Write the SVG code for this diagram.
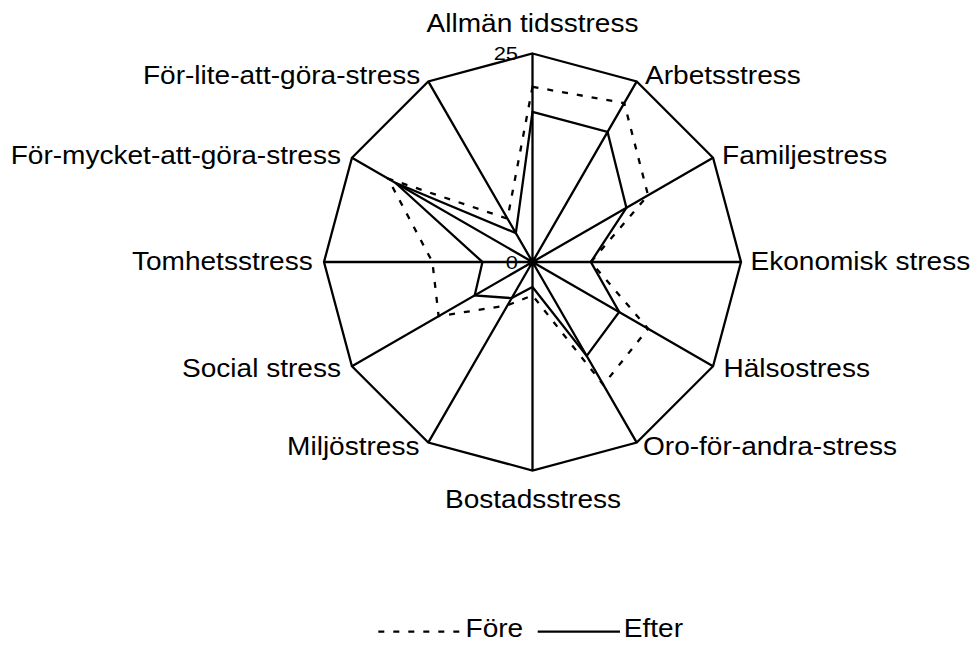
<svg xmlns="http://www.w3.org/2000/svg" width="976" height="646" viewBox="0 0 976 646">
<style>
.ln{fill:none;stroke:#000;stroke-width:2.3;stroke-linejoin:miter}
.ds{fill:none;stroke:#000;stroke-width:2.3;stroke-dasharray:6 9}
.lb{font-family:"Liberation Sans",Arial,sans-serif;font-size:25.5px;fill:#000}
.tk{font-family:"Liberation Sans",Arial,sans-serif;font-size:19px;fill:#000}
</style>
<rect width="976" height="646" fill="#fff"/>
<g id="grid">
<polygon class="ln" points="532.5,53.5 636.75,81.44 713.06,157.75 741,262 713.06,366.25 636.75,442.56 532.5,470.5 428.25,442.56 351.94,366.25 324,262 351.94,157.75 428.25,81.44"/>
</g>
<g id="spokes">
<path class="ln" d="M532.5,262L532.5,53.5M532.5,262L636.75,81.44M532.5,262L713.06,157.75M532.5,262L741,262M532.5,262L713.06,366.25M532.5,262L636.75,442.56M532.5,262L532.5,470.5M532.5,262L428.25,442.56M532.5,262L351.94,366.25M532.5,262L324,262M532.5,262L351.94,157.75M532.5,262L428.25,81.44"/>
</g>
<g id="series-fore">
<polygon class="ds" points="532.5,86.86 624.24,103.1 648.06,195.28 590.88,262 648.06,328.72 603.39,384.78 532.5,295.36 507.48,305.34 438.61,316.21 432.42,262 388.05,178.6 507.48,218.66"/>
</g>
<g id="series-efter">
<polygon class="ln" points="532.5,111.88 607.56,132 626.39,207.79 590.88,262 619.17,312.04 586.71,355.89 532.5,287.02 511.65,298.11 474.72,295.36 482.46,262 395.27,182.77 515.82,233.11"/>
</g>
<g id="ticks">
<text class="tk" text-anchor="end" transform="translate(518,60) scale(1.15,1)">25</text>
<text class="tk" text-anchor="end" transform="translate(518,269.3) scale(1.15,1)">0</text>
</g>
<g id="labels">
<g id="ax0"><text class="lb" text-anchor="middle" transform="translate(532.5,31.7) scale(1.1,1)">Allmän tidsstress</text></g>
<g id="ax1"><text class="lb" transform="translate(645,84.2) scale(1.1,1)">Arbetsstress</text></g>
<g id="ax2"><text class="lb" transform="translate(722,164) scale(1.1,1)">Familjestress</text></g>
<g id="ax3"><text class="lb" transform="translate(750.5,269.5) scale(1.1,1)">Ekonomisk stress</text></g>
<g id="ax4"><text class="lb" transform="translate(723.5,377) scale(1.1,1)">Hälsostress</text></g>
<g id="ax5"><text class="lb" transform="translate(643,455.3) scale(1.1,1)">Oro-för-andra-stress</text></g>
<g id="ax6"><text class="lb" text-anchor="middle" transform="translate(533,508.3) scale(1.1,1)">Bostadsstress</text></g>
<g id="ax7"><text class="lb" text-anchor="end" transform="translate(419.5,454.5) scale(1.1,1)">Miljöstress</text></g>
<g id="ax8"><text class="lb" text-anchor="end" transform="translate(341,376.8) scale(1.1,1)">Social stress</text></g>
<g id="ax9"><text class="lb" text-anchor="end" transform="translate(312.7,270) scale(1.1,1)">Tomhetsstress</text></g>
<g id="ax10"><text class="lb" text-anchor="end" transform="translate(341,163.5) scale(1.1,1)">För-mycket-att-göra-stress</text></g>
<g id="ax11"><text class="lb" text-anchor="end" transform="translate(420.3,84.3) scale(1.1,1)">För-lite-att-göra-stress</text></g>
</g>
<g id="legend">
<line class="ds" x1="378.3" y1="631.7" x2="460" y2="631.7" stroke-dasharray="6 9.1"/>
<text class="lb" transform="translate(465.5,637.3) scale(1.1,1)">Före</text>
<line class="ln" x1="537.7" y1="631.7" x2="620" y2="631.7"/>
<text class="lb" transform="translate(623.8,637.3) scale(1.1,1)">Efter</text>
</g>
</svg>
